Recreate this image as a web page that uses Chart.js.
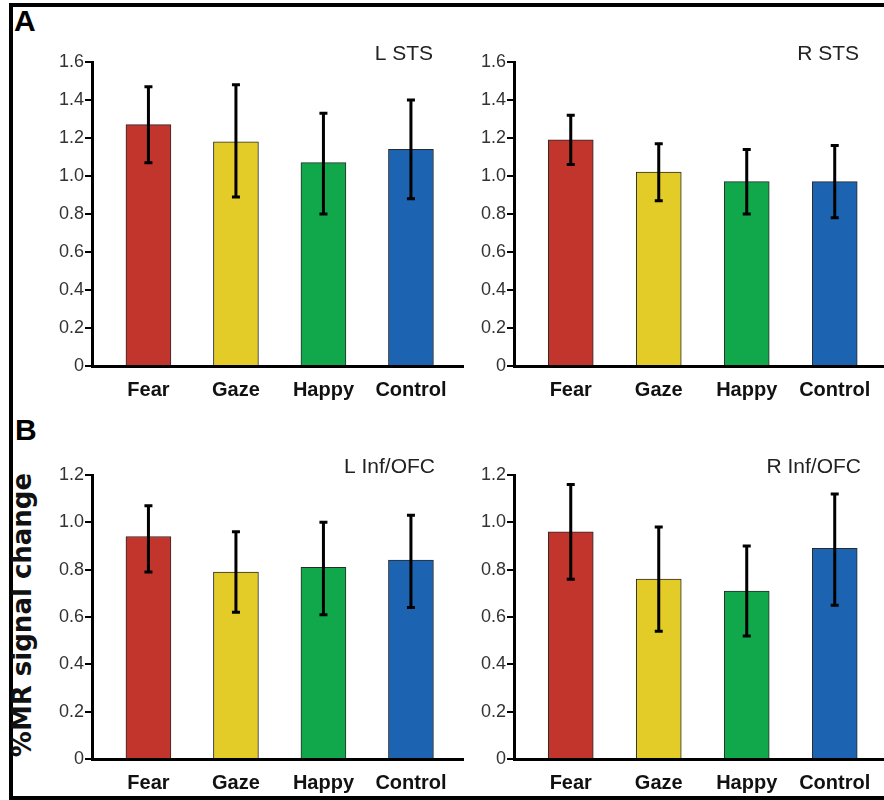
<!DOCTYPE html>
<html>
<head>
<meta charset="utf-8">
<script src="https://cdn.jsdelivr.net/npm/chart.js@4"></script>
<style>
  body { margin: 0; background: #fff; width: 884px; height: 800px; overflow: hidden; position: relative; }
  canvas { position: absolute; }
  .frame { position: absolute; left: 9px; top: 3px; width: 900px; height: 797px; box-sizing: border-box;
           border-left: 4px solid #000; border-top: 4px solid #000; border-bottom: 4px solid #000; }
  .letter { position: absolute; font: bold 30px "Liberation Sans", Arial, sans-serif; line-height: 30px; color: #000; }
  .ytitle { position: absolute; left: -128px; top: 600px; width: 300px; height: 30px; line-height: 30px;
            text-align: center; font: bold 26px "DejaVu Sans", sans-serif; color: #111; transform: rotate(-90deg); }
</style>
</head>
<body>
<div class="frame"></div>
<div class="letter" style="left:14px; top:6px;">A</div>
<div class="letter" style="left:15px; top:415px;">B</div>
<div class="ytitle">%MR signal change</div>

<canvas id="lsts" width="446" height="366" style="left:20px; top:40px;"></canvas>
<canvas id="rsts" width="442" height="366" style="left:442px; top:40px;"></canvas>
<canvas id="lofc" width="446" height="346" style="left:20px; top:453px;"></canvas>
<canvas id="rofc" width="442" height="346" style="left:442px; top:453px;"></canvas>

<script>
const conditions = ['Fear', 'Gaze', 'Happy', 'Control'];
const barColors = ['#c1352d', '#e4cc28', '#11a84c', '#1c64b2'];

const stsTicks = ['0', '0.2', '0.4', '0.6', '0.8', '1.0', '1.2', '1.4', '1.6'];
const ofcTicks = ['0', '0.2', '0.4', '0.6', '0.8', '1.0', '1.2'];

// L STS
const lstsMean = [1.27, 1.18, 1.07, 1.14];
const lstsHigh = [1.47, 1.48, 1.33, 1.40];
const lstsLow  = [1.07, 0.89, 0.80, 0.88];

// R STS
const rstsMean = [1.19, 1.02, 0.97, 0.97];
const rstsHigh = [1.32, 1.17, 1.14, 1.16];
const rstsLow  = [1.06, 0.87, 0.80, 0.78];

// L Inf/OFC
const lofcMean = [0.94, 0.79, 0.81, 0.84];
const lofcHigh = [1.07, 0.96, 1.00, 1.03];
const lofcLow  = [0.79, 0.62, 0.61, 0.64];

// R Inf/OFC
const rofcMean = [0.96, 0.76, 0.71, 0.89];
const rofcHigh = [1.16, 0.98, 0.90, 1.12];
const rofcLow  = [0.76, 0.54, 0.52, 0.65];

// draws the mean +/- error whiskers on top of the bars
const errorBarPlugin = {
    id: 'errorBars',
    afterDatasetsDraw(chart) {
        const ds = chart.data.datasets[0];
        const meta = chart.getDatasetMeta(0);
        const y = chart.scales.y;
        const ctx = chart.ctx;
        ctx.save();
        ctx.strokeStyle = '#000';
        ctx.lineWidth = 3;
        meta.data.forEach((bar, i) => {
            const top = y.getPixelForValue(ds.errHigh[i]);
            const bottom = y.getPixelForValue(ds.errLow[i]);
            ctx.beginPath();
            ctx.moveTo(bar.x, top);
            ctx.lineTo(bar.x, bottom);
            ctx.moveTo(bar.x - 4, top);
            ctx.lineTo(bar.x + 4, top);
            ctx.moveTo(bar.x - 4, bottom);
            ctx.lineTo(bar.x + 4, bottom);
            ctx.stroke();
        });
        ctx.restore();
    }
};

// region name in the top right corner of each panel
const panelTitlePlugin = {
    id: 'panelTitle',
    afterDraw(chart, args, opts) {
        const area = chart.chartArea;
        const ctx = chart.ctx;
        ctx.save();
        ctx.font = '21px "Liberation Sans", Arial, sans-serif';
        ctx.fillStyle = '#222';
        ctx.textAlign = 'right';
        ctx.textBaseline = 'alphabetic';
        ctx.fillText(opts.text, area.right - opts.inset, area.top - 2);
        ctx.restore();
    }
};

function makePanel(id, title, inset, means, highs, lows, yMax, yTicks, xMax) {
    return new Chart(document.getElementById(id), {
        type: 'bar',
        data: {
            datasets: [{
                data: means.map((v, i) => ({x: i, y: v})),
                errHigh: highs,
                errLow: lows,
                backgroundColor: barColors,
                borderColor: '#2a2a2a',
                borderWidth: 1,
                barThickness: 45
            }]
        },
        options: {
            responsive: false,
            animation: false,
            layout: { padding: { top: 22, right: xMax > 3.58 ? 3 : 0, left: 0, bottom: 0 } },
            plugins: {
                legend: { display: false },
                tooltip: { enabled: false },
                panelTitle: { text: title, inset: inset }
            },
            scales: {
                x: {
                    type: 'linear',
                    min: -0.645,
                    max: xMax,
                    bounds: 'data',
                    offset: false,
                    grid: { display: false, drawTicks: false, offset: false },
                    border: { display: true, width: 3, color: '#000' },
                    ticks: {
                        autoSkip: false,
                        maxRotation: 0,
                        padding: 12,
                        color: '#111',
                        font: { family: 'Liberation Sans', size: 20, weight: 'bold' },
                        callback: (v) => conditions[v] ?? ''
                    },
                    // one tick per condition, at the bar centres
                    afterBuildTicks: (s) => { s.ticks = conditions.map((c, i) => ({ value: i })); },
                    afterFit: (s) => { s.height = 40; }
                },
                y: {
                    min: 0,
                    max: yMax,
                    grid: { drawOnChartArea: false, drawTicks: true, tickLength: 7, lineWidth: 2, color: '#000' },
                    border: { display: true, width: 3, color: '#000' },
                    ticks: {
                        stepSize: 0.2,
                        padding: 1,
                        color: '#333',
                        font: { family: 'Liberation Sans', size: 18 },
                        callback: (v, i) => yTicks[i]
                    },
                    afterFit: (s) => { s.width = 72; }
                }
            }
        },
        plugins: [errorBarPlugin, panelTitlePlugin]
    });
}

makePanel('lsts', 'L STS', 30, lstsMean, lstsHigh, lstsLow, 1.6, stsTicks, 3.595);
makePanel('rsts', 'R STS', 25, rstsMean, rstsHigh, rstsLow, 1.6, stsTicks, 3.56);
makePanel('lofc', 'L Inf/OFC', 28, lofcMean, lofcHigh, lofcLow, 1.2, ofcTicks, 3.595);
makePanel('rofc', 'R Inf/OFC', 23, rofcMean, rofcHigh, rofcLow, 1.2, ofcTicks, 3.56);
</script>
</body>
</html>
